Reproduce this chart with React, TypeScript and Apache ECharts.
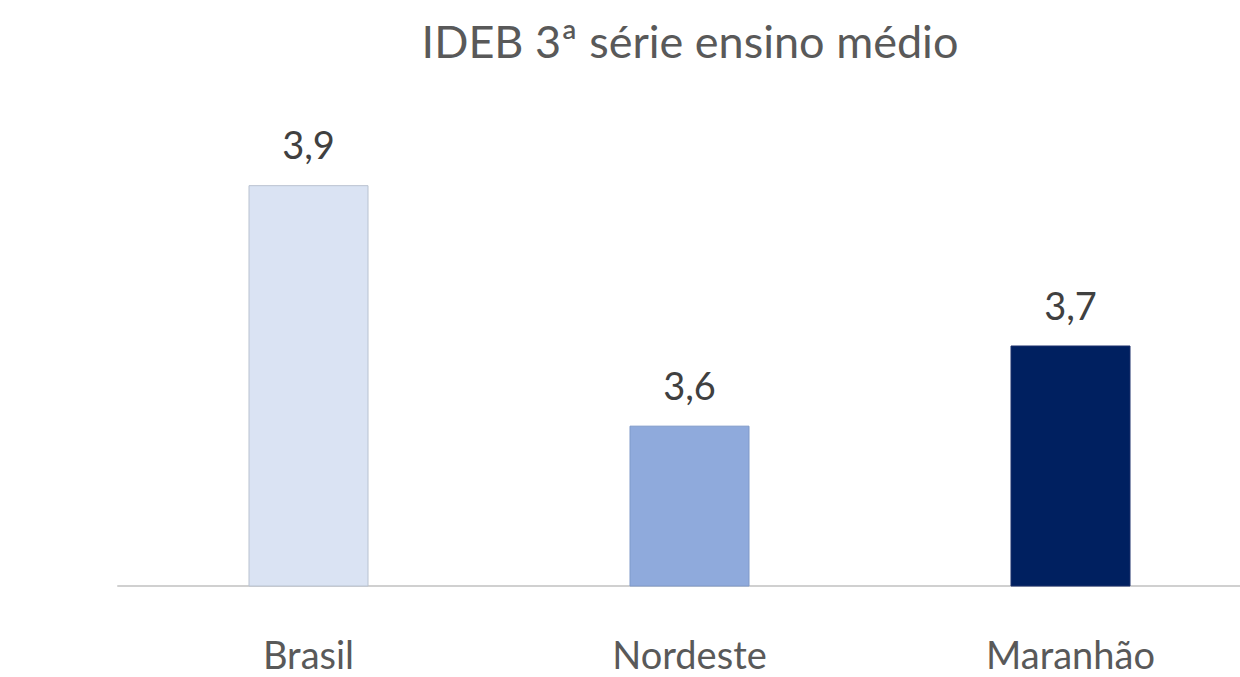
import React, { useEffect, useRef } from "react";
import * as echarts from "echarts";

const categories = ["Brasil", "Nordeste", "Maranhão"];
const values = [3.9, 3.6, 3.7];
const barColors = ["#dae3f3", "#8faadc", "#002060"];
const borderColors = ["#b9c2d0", "#7f99c9", "#1a2f6a"];
const titleText = "IDEB 3ª série ensino médio";

export default function App() {
  const ref = useRef<HTMLDivElement>(null);
  useEffect(() => {
    if (!ref.current) return;
    const chart = echarts.init(ref.current, null, { renderer: "svg" });
    const font = "Lato, 'Open Sans', sans-serif";
    chart.setOption({
      animation: false,
      backgroundColor: "#ffffff",
      title: {
        text: titleText,
        left: 685,
        top: 13,
        textAlign: "center",
        textStyle: {
          fontFamily: font,
          fontSize: 45,
          fontWeight: "normal",
          color: "#595959",
        },
      },
      grid: { left: 118, right: 0, top: 105, bottom: 91, containLabel: false },
      xAxis: {
        type: "category",
        data: categories,
        axisLine: { show: true, lineStyle: { color: "#d0d0d0", width: 2 } },
        axisTick: { show: false },
        axisLabel: {
          fontFamily: font,
          fontSize: 38,
          color: "#595959",
          margin: 49,
        },
      },
      yAxis: {
        type: "value",
        min: 3.4,
        max: 4.0,
        show: false,
        splitLine: { show: false },
      },
      series: [
        {
          type: "bar",
          barWidth: 120,
          data: values.map((v, i) => ({
            value: v,
            itemStyle: { color: barColors[i], borderColor: borderColors[i], borderWidth: 1 },
          })),
          label: {
            show: true,
            position: "top",
            distance: 22,
            fontFamily: font,
            fontSize: 38,
            color: "#404040",
            formatter: (p: any) => String(p.value).replace(".", ","),
          },
        },
      ],
    });
    return () => chart.dispose();
  }, []);
  return (
    <div
      style={{ position: "fixed", left: 0, top: 0, width: 1240, height: 677, overflow: "hidden" }}
    >
      <div ref={ref} style={{ width: 1261, height: 677 }} />
    </div>
  );
}
